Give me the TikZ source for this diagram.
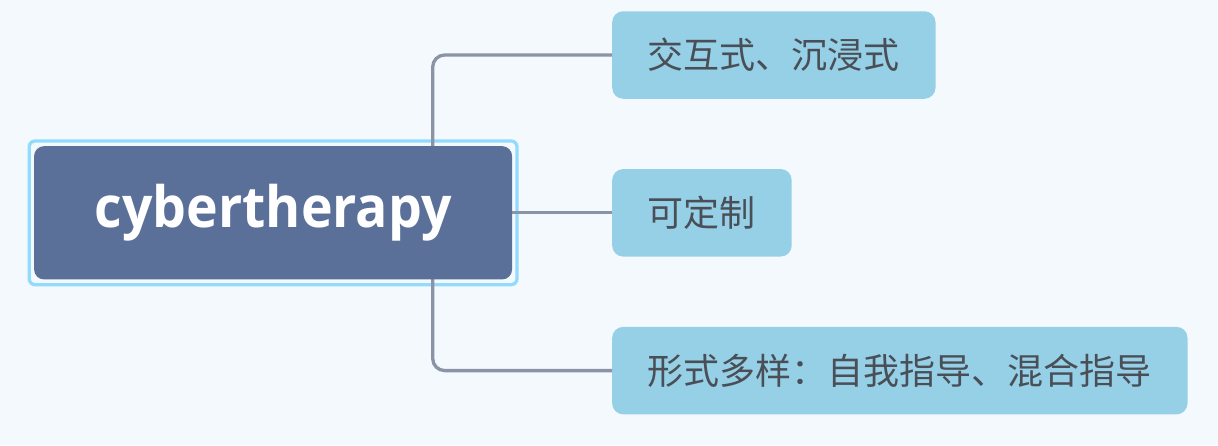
\documentclass[tikz,border=0pt]{standalone}
\usepackage{fontspec}
\setmainfont{Open Sans}
\newfontfamily\rootfont{Open Sans}[FakeStretch=0.94]
\newfontfamily\cjk{Noto Sans CJK SC}
\definecolor{bgcol}{HTML}{F4F9FD}
\definecolor{rootfill}{HTML}{5A7099}
\definecolor{selcol}{HTML}{92DBFC}
\definecolor{leaffill}{HTML}{96D0E6}
\definecolor{linkcol}{HTML}{8A94A6}
\definecolor{leaftext}{HTML}{4A4F57}
\begin{document}
\begin{tikzpicture}[x=1pt,y=-1pt,
  rootbox/.style={fill=rootfill, rounded corners=10pt, inner sep=0pt,
    minimum width=478pt, minimum height=133.3pt, text=white,
    font=\rootfont\fontsize{57}{60}\selectfont\bfseries},
  selbox/.style={draw=selcol, line width=3.3pt, rounded corners=6pt, inner sep=0pt,
    minimum width=487.9pt, minimum height=143.7pt},
  leafbox/.style={fill=leaffill, rounded corners=11pt, inner sep=0pt, anchor=west,
    minimum height=87.5pt, text=leaftext, font=\cjk\fontsize{36}{38}\selectfont},
  link/.style={draw=linkcol, line width=3.3pt, rounded corners=12pt}
]
% canvas
\fill[bgcol] (0,0) rectangle (1218,445);
\useasboundingbox (0,0) rectangle (1218,445);

% selection frame around the root topic
\node[selbox] (sel) at (273.1,212.8) {};

% branch trunk position
\coordinate (trunk) at (432.7,212.8);

% leaf topics
\node[leafbox, minimum width=323.3pt] (c1) at (612,55) {交互式、沉浸式};
\node[leafbox, minimum width=179.5pt] (c2) at (612,212.8) {可定制};
\node[leafbox, minimum width=575.3pt] (c3) at (612,370.6) {形式多样：自我指导、混合指导};

% connectors
\path[link] (trunk) |- (c1.west);
\path[link] (trunk) |- (c3.west);
\path[link] (trunk) -- (c2.west);

% root topic
\node[rootbox] (root) at (273.1,212.8) {cybertherapy};
\end{tikzpicture}
\end{document}
